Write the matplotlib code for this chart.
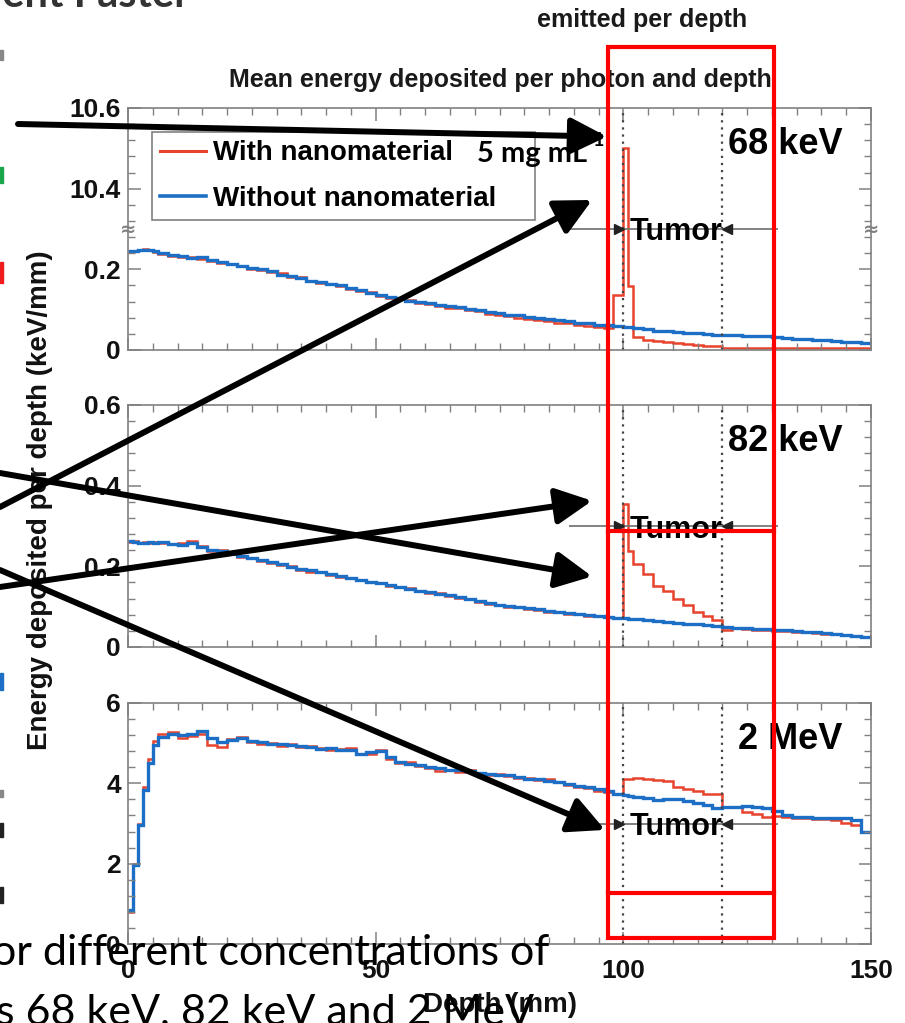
import numpy as np
import matplotlib
matplotlib.use("Agg")
import matplotlib.pyplot as plt
import matplotlib.transforms as mtransforms
from matplotlib.patches import ConnectionPatch, Rectangle
from matplotlib.lines import Line2D
from matplotlib.ticker import MultipleLocator, FixedLocator, FixedFormatter, FuncFormatter

plt.rcParams['font.family'] = ['Liberation Sans', 'DejaVu Sans']
plt.rcParams['font.weight'] = 'bold'

# Profundidad (mm): bins de 1 mm al inicio y en la entrada del tumor, 2 mm en el resto
edges = np.concatenate([np.arange(0, 6, 1), np.arange(6, 100, 2), [100, 101], np.arange(102, 151, 2)])

# 68 keV (el panel superior tiene eje cortado: 10.4 y 10.6 arriba)
red_68 = [0.243, 0.245, 0.249, 0.250, 0.248, 0.244,
          0.238, 0.232, 0.230, 0.231, 0.226, 0.220, 0.216, 0.213, 0.209, 0.200,
          0.198, 0.193, 0.190, 0.182, 0.180, 0.170, 0.166, 0.164, 0.158, 0.150,
          0.146, 0.143, 0.134, 0.130, 0.126, 0.124, 0.116, 0.114, 0.110, 0.104,
          0.103, 0.100, 0.097, 0.090, 0.088, 0.084, 0.080, 0.078, 0.074, 0.071,
          0.068, 0.066, 0.062, 0.060, 0.057, 0.055, 0.136,
          10.5, 0.159,
          0.031, 0.026, 0.023, 0.020, 0.017, 0.014, 0.012, 0.011, 0.009, 0.006,
          0.005, 0.005, 0.005, 0.005, 0.004, 0.004, 0.004, 0.004, 0.004, 0.004,
          0.004, 0.004, 0.004, 0.004]
blue_68 = [0.245, 0.246, 0.248, 0.248, 0.247, 0.246,
           0.240, 0.236, 0.233, 0.228, 0.230, 0.222, 0.219, 0.214, 0.208, 0.203,
           0.200, 0.196, 0.186, 0.184, 0.178, 0.172, 0.168, 0.163, 0.160, 0.153,
           0.148, 0.142, 0.137, 0.132, 0.128, 0.122, 0.119, 0.116, 0.112, 0.108,
           0.106, 0.102, 0.099, 0.094, 0.092, 0.088, 0.086, 0.082, 0.080, 0.077,
           0.074, 0.072, 0.068, 0.066, 0.063, 0.061, 0.060,
           0.058, 0.057,
           0.055, 0.052, 0.048, 0.046, 0.044, 0.043, 0.041, 0.040, 0.037, 0.038,
           0.036, 0.035, 0.034, 0.034, 0.031, 0.030, 0.028, 0.027, 0.026, 0.024,
           0.022, 0.020, 0.019, 0.017]

# 82 keV
red_82 = [0.260, 0.262, 0.259, 0.261, 0.258, 0.260,
          0.258, 0.255, 0.258, 0.262, 0.250, 0.238, 0.240, 0.230, 0.224, 0.221,
          0.214, 0.208, 0.204, 0.200, 0.192, 0.187, 0.186, 0.179, 0.174, 0.171,
          0.165, 0.160, 0.159, 0.151, 0.148, 0.146, 0.138, 0.134, 0.133, 0.126,
          0.122, 0.120, 0.112, 0.107, 0.103, 0.100, 0.098, 0.094, 0.092, 0.088,
          0.086, 0.083, 0.081, 0.078, 0.076, 0.074, 0.071,
          0.355, 0.238,
          0.205, 0.180, 0.151, 0.138, 0.118, 0.105, 0.088, 0.078, 0.068, 0.043,
          0.046, 0.045, 0.043, 0.043, 0.040, 0.039, 0.038, 0.036, 0.035, 0.033,
          0.031, 0.029, 0.027, 0.025]
blue_82 = [0.262, 0.260, 0.258, 0.259, 0.261, 0.259,
           0.260, 0.256, 0.254, 0.257, 0.247, 0.240, 0.237, 0.232, 0.226, 0.220,
           0.216, 0.210, 0.206, 0.199, 0.194, 0.190, 0.185, 0.181, 0.176, 0.170,
           0.167, 0.162, 0.158, 0.153, 0.150, 0.145, 0.140, 0.136, 0.132, 0.128,
           0.124, 0.119, 0.114, 0.109, 0.105, 0.102, 0.099, 0.096, 0.093, 0.090,
           0.087, 0.085, 0.082, 0.080, 0.077, 0.075, 0.072,
           0.071, 0.070,
           0.069, 0.066, 0.064, 0.061, 0.059, 0.058, 0.056, 0.054, 0.051, 0.050,
           0.048, 0.047, 0.045, 0.044, 0.042, 0.041, 0.039, 0.038, 0.036, 0.034,
           0.032, 0.030, 0.028, 0.026]

# 2 MeV
red_2m = [0.80, 2.00, 3.00, 3.90, 4.60, 5.05,
          5.22, 5.28, 5.14, 5.18, 5.22, 4.96, 4.90, 5.10, 5.16, 5.02,
          4.98, 5.00, 4.94, 4.98, 4.90, 4.92, 4.88, 4.82, 4.86, 4.88,
          4.72, 4.74, 4.84, 4.60, 4.50, 4.52, 4.44, 4.38, 4.30, 4.34,
          4.28, 4.32, 4.24, 4.20, 4.22, 4.18, 4.14, 4.14, 4.08, 4.10,
          4.04, 3.96, 3.92, 3.88, 3.82, 3.78, 3.74,
          4.12, 4.12,
          4.14, 4.10, 4.08, 4.06, 3.90, 3.86, 3.80, 3.73, 3.73, 3.42,
          3.42, 3.29, 3.24, 3.17, 3.18, 3.16, 3.14, 3.13, 3.10, 3.10,
          3.08, 3.02, 2.96, 2.80]
blue_2m = [0.85, 1.97, 2.96, 3.83, 4.50, 4.95,
           5.16, 5.22, 5.20, 5.24, 5.30, 5.12, 5.04, 5.08, 5.14, 5.06,
           5.02, 4.98, 4.99, 4.95, 4.93, 4.90, 4.86, 4.88, 4.84, 4.82,
           4.74, 4.78, 4.80, 4.66, 4.52, 4.48, 4.46, 4.40, 4.37, 4.34,
           4.33, 4.30, 4.26, 4.22, 4.21, 4.20, 4.16, 4.12, 4.10, 4.06,
           4.04, 3.98, 3.94, 3.90, 3.85, 3.80, 3.73,
           3.70, 3.68,
           3.66, 3.63, 3.58, 3.60, 3.62, 3.56, 3.52, 3.46, 3.38, 3.40,
           3.42, 3.44, 3.40, 3.38, 3.30, 3.22, 3.17, 3.16, 3.14, 3.13,
           3.13, 3.14, 3.08, 2.80]

energies = ['68 keV', '82 keV', '2 MeV']
y_max = [0.6, 0.6, 6]
y1_ticks = [0, 0.2, 0.4, 0.6]
y1_ticklabels = ['0', '0.2', '10.4', '10.6']
tumor_limits = [100, 120]
legend_labels = ['With nanomaterial', 'Without nanomaterial']

for serie in [red_68, blue_68, red_82, blue_82, red_2m, blue_2m]:
    assert len(serie) == len(edges) - 1, len(serie)

RED = '#e8432d'
BLUE = '#1c6fc4'
GRAY = '#808080'
W, H = 905, 1023

fig = plt.figure(figsize=(W / 100, H / 100), dpi=100)


def ejes_px(left, top, right, bottom):
    return fig.add_axes([left / W, 1 - bottom / H, (right - left) / W, (bottom - top) / H])


def cortar(v):
    # eje roto del panel de 68 keV: 10.3-10.6 se dibuja sobre 0.3-0.6
    v = np.asarray(v)
    return np.where(v > 5, v - 10, v)


ax1 = ejes_px(128, 108, 871, 350)
ax2 = ejes_px(128, 405, 871, 647)
ax3 = ejes_px(128, 703, 871, 944)
axes = [ax1, ax2, ax3]

ax1.stairs(cortar(red_68), edges, color=RED, lw=1.8, baseline=None)
ax1.stairs(cortar(blue_68), edges, color=BLUE, lw=2.4, baseline=None)
ax2.stairs(red_82, edges, color=RED, lw=1.8, baseline=None)
ax2.stairs(blue_82, edges, color=BLUE, lw=2.4, baseline=None)
ax3.stairs(red_2m, edges, color=RED, lw=1.8, baseline=None)
ax3.stairs(blue_2m, edges, color=BLUE, lw=2.4, baseline=None)

fmt = FuncFormatter(lambda v, _: '%g' % round(v, 6))
for ax, ym, name in zip(axes, y_max, energies):
    ax.set_xlim(0, 150)
    ax.set_ylim(0, ym)
    ax.xaxis.set_major_locator(MultipleLocator(50))
    ax.xaxis.set_minor_locator(MultipleLocator(5))
    ax.yaxis.set_major_locator(MultipleLocator(ym / 3))
    ax.yaxis.set_minor_locator(MultipleLocator(ym / 15))
    ax.xaxis.set_major_formatter(fmt)
    ax.yaxis.set_major_formatter(fmt)
    ax.tick_params(which='both', direction='in', top=True, right=True,
                   colors=GRAY, labelcolor='#111111', labelsize=19)
    ax.tick_params(which='major', length=9, width=1.1)
    ax.tick_params(which='minor', length=5, width=1.0)
    ax.tick_params(axis='y', pad=5)
    ax.tick_params(axis='x', pad=11)
    for s in ax.spines.values():
        s.set_color(GRAY)
        s.set_linewidth(1.2)
    for xv in tumor_limits:
        ax.axvline(xv, color='#444444', lw=1.6, ls=(0, (1, 2.2)))
    # marca del tumor
    yt = ym / 2
    ax.hlines(yt, 89, 131.2, color='#777777', lw=1.3)
    ax.plot(tumor_limits[0] - 0.9, yt, marker='>', ms=7, color='#222222')
    ax.plot(tumor_limits[1] + 0.9, yt, marker='<', ms=7, color='#222222')
    ax.text(110.6, yt, 'Tumor', ha='center', va='center_baseline', fontsize=22)
    ax.text(144.2, ym * 0.85, name, ha='right', va='center', fontsize=26)

ax1.tick_params(labelbottom=False)
ax2.tick_params(labelbottom=False)
ax1.yaxis.set_major_locator(FixedLocator(y1_ticks))
ax1.yaxis.set_major_formatter(FixedFormatter(y1_ticklabels))
ax1.yaxis.set_minor_locator(MultipleLocator(0.04))
for xa in [0, 1]:
    ax1.text(xa, 0.5, '≈', transform=ax1.transAxes, ha='center', va='center',
             fontsize=14, color=GRAY, family='DejaVu Sans')

handles = [Line2D([], [], color=RED, lw=2.2), Line2D([], [], color=BLUE, lw=2.6)]
leg = ax1.legend(handles, legend_labels, loc='upper left', mode='expand',
                 bbox_to_anchor=(0.0323, 0, 0.5155, 0.901), borderaxespad=0,
                 fontsize=20, handlelength=1.65, handletextpad=0.25,
                 labelspacing=0.7, borderpad=0.3, fancybox=False, framealpha=1)
leg.get_frame().set_edgecolor(GRAY)
leg.get_frame().set_linewidth(1.2)

t5 = fig.text(477 / W, 1 - 162 / H, '5 mg mL', fontsize=21, family=['Lato', 'DejaVu Sans'],
              weight='bold', va='baseline', zorder=12)
fig.add_artist(matplotlib.text.Annotation('-1', xy=(1.0, 1.0), xycoords=t5, fontsize=14,
                                          family=['Lato', 'DejaVu Sans'], weight='bold',
                                          ha='left', va='center', zorder=12))

# textos de la figura original
fig.text(500 / W, 1 - 80 / H, 'Mean energy deposited per photon and depth', ha='center',
         va='center', fontsize=18, color='#1a1a1a')
fig.text(642 / W, 1 - 20 / H, 'emitted per depth', ha='center', va='center', fontsize=18,
         color='#1a1a1a')
fig.text(40 / W, 1 - 500 / H, 'Energy deposited per depth (keV/mm)', rotation=90,
         ha='center', va='center', fontsize=20, color='#111111')
fig.text(500 / W, 1 - 1005 / H, 'Depth (mm)', ha='center', va='center', fontsize=20,
         color='#111111')

# texto de la diapositiva (cortado por los bordes)
fig.text(190 / W, 1 - 7 / H, 'ement Faster', ha='right', va='baseline', fontsize=30,
         family=['Lato', 'DejaVu Sans'], weight='bold', color='#333333')
fig.text(-8 / W, 1 - 965 / H, 'or different concentrations of', ha='left', va='baseline',
         fontsize=31, family=['Lato', 'DejaVu Sans'], weight='normal', zorder=8)
fig.text(-4 / W, 1 - 1024 / H, 's 68 keV, 82 keV and 2 MeV', ha='left', va='baseline',
         fontsize=31, family=['Lato', 'DejaVu Sans'], weight='normal', zorder=8)

for y1, y2, col in [(50, 60, '#888888'), (167, 183, '#1aa64a'), (262, 283, '#ee1c1c'),
                    (673, 690, '#1c6fc4'), (790, 797, '#888888'), (823, 837, '#222222'),
                    (887, 903, '#222222')]:
    fig.add_artist(Rectangle((0, 1 - y2 / H), 3 / W, (y2 - y1) / H, transform=fig.transFigure,
                             color=col, zorder=9))

# recuadro rojo sobre la zona del tumor
tr = mtransforms.blended_transform_factory(ax3.transData, fig.transFigure)
fig.add_artist(Rectangle((96.9, 1 - 938 / H), 130.4 - 96.9, (938 - 47) / H, transform=tr,
                         fill=False, edgecolor='#ff0000', lw=3, zorder=15))
for yl in [531, 893]:
    fig.add_artist(Line2D([96.9, 130.4], [1 - yl / H, 1 - yl / H], transform=tr,
                          color='#ff0000', lw=3, zorder=15))

# flechas negras
starts = [(18, 124), (0, 507), (0, 473), (0, 587), (0, 570)]
tips = [(ax1, 96.7, 0.529), (ax1, 93.7, 0.372), (ax2, 93.7, 0.175), (ax2, 93.7, 0.3625),
        (ax3, 96.3, 2.84)]
for (sx, sy), (tax, tx, ty) in zip(starts, tips):
    con = ConnectionPatch(xyA=(sx / W, 1 - sy / H), coordsA=fig.transFigure,
                          xyB=(tx, ty), coordsB=tax.transData,
                          arrowstyle='-|>,head_length=1.1,head_width=0.55', mutation_scale=20,
                          lw=4.3, color='black', shrinkA=0, shrinkB=0, zorder=20)
    fig.add_artist(con)

fig.savefig('out.png', dpi=100)
